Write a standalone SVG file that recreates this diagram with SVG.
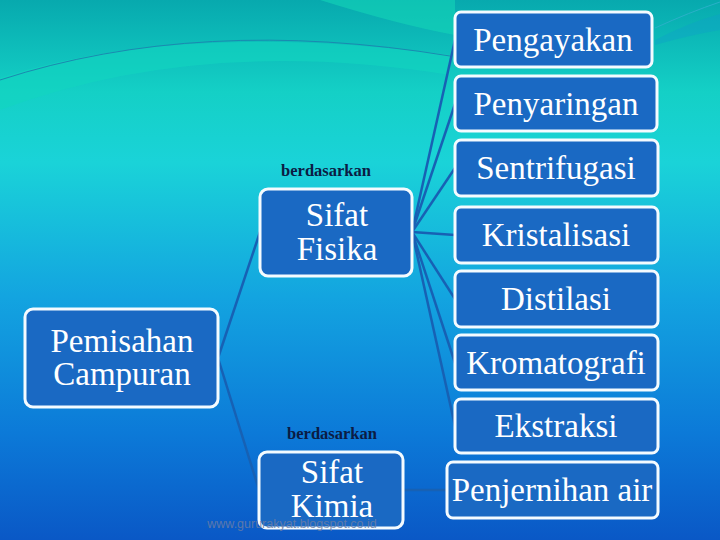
<svg xmlns="http://www.w3.org/2000/svg" width="720" height="540" viewBox="0 0 720 540">
<defs>
<linearGradient id="bg" x1="0" y1="0" x2="0" y2="1">
<stop offset="0" stop-color="#07a9ae"/>
<stop offset="0.17" stop-color="#14d0c6"/>
<stop offset="0.3" stop-color="#1ad3d8"/>
<stop offset="0.55" stop-color="#13a4e0"/>
<stop offset="0.8" stop-color="#0c7ad8"/>
<stop offset="1" stop-color="#0a58c6"/>
</linearGradient>
<style>
.box{fill:#1a69c3;stroke:#f4fbff;stroke-width:3}
.t{font-family:"Liberation Serif",serif;font-size:33px;fill:#ffffff;text-anchor:middle}
.b{font-family:"Liberation Serif",serif;font-size:16.5px;font-weight:bold;fill:#0b1c44;text-anchor:middle}
.c{stroke:#1761b4;stroke-width:2.5;fill:none}
</style>
</defs>
<rect width="720" height="540" fill="url(#bg)"/>
<path d="M0,78 Q180,20 450,55 L450,75 Q200,35 0,110 Z" fill="#12d6c0" opacity="0.6"/>
<path d="M0,80 Q200,15 450,56" fill="none" stroke="#1a8ab0" stroke-width="1"/>
<path d="M320,0 Q400,25 455,35 L455,0 Z" fill="#14d6b8" opacity="0.6"/>
<path d="M655,28 Q690,12 720,2" fill="none" stroke="#2ab0c8" stroke-width="1"/>
<path d="M655,40 Q690,22 720,14 L720,30 Q690,35 655,45 Z" fill="#10a0c8" opacity="0.4"/>
<g id="connectors">
<line class="c" x1="412" y1="232" x2="455" y2="40"/>
<line class="c" x1="412" y1="232" x2="455" y2="104"/>
<line class="c" x1="412" y1="232" x2="455" y2="168"/>
<line class="c" x1="412" y1="232" x2="455" y2="235" stroke-width="3.5"/>
<line class="c" x1="412" y1="232" x2="455" y2="299"/>
<line class="c" x1="412" y1="232" x2="455" y2="363"/>
<line class="c" x1="412" y1="232" x2="455" y2="426"/>
<line class="c" x1="218" y1="358" x2="260" y2="232"/>
<line class="c" x1="218" y1="358" x2="259" y2="490"/>
<line class="c" x1="403" y1="490" x2="447" y2="490" stroke-width="1.5"/>
</g>
<g id="pemisahan"><rect class="box" x="25" y="309" width="193" height="98" rx="8"/><text class="t" x="122" y="352">Pemisahan</text><text class="t" x="122" y="385">Campuran</text></g>
<g id="label1"><text class="b" x="326" y="176">berdasarkan</text></g>
<g id="fisika"><rect class="box" x="260" y="189" width="152" height="87" rx="8"/><text class="t" x="337" y="226">Sifat</text><text class="t" x="337" y="260">Fisika</text></g>
<g id="label2"><text class="b" x="332" y="439">berdasarkan</text></g>
<g id="kimia"><rect class="box" x="259" y="452" width="144" height="76" rx="8"/><text class="t" x="332" y="483">Sifat</text><text class="t" x="332" y="517">Kimia</text></g>
<g id="pengayakan"><rect class="box" x="455" y="12" width="197" height="55" rx="6"/><text class="t" x="553" y="51">Pengayakan</text></g>
<g id="penyaringan"><rect class="box" x="455" y="76" width="202" height="55" rx="6"/><text class="t" x="556" y="115">Penyaringan</text></g>
<g id="sentrifugasi"><rect class="box" x="455" y="140" width="203" height="56" rx="6"/><text class="t" x="556" y="179">Sentrifugasi</text></g>
<g id="kristalisasi"><rect class="box" x="455" y="207" width="203" height="56" rx="6"/><text class="t" x="556" y="246">Kristalisasi</text></g>
<g id="distilasi"><rect class="box" x="455" y="271" width="203" height="56" rx="6"/><text class="t" x="556" y="310">Distilasi</text></g>
<g id="kromatografi"><rect class="box" x="455" y="335" width="203" height="55" rx="6"/><text class="t" x="556" y="374">Kromatografi</text></g>
<g id="ekstraksi"><rect class="box" x="455" y="399" width="203" height="54" rx="6"/><text class="t" x="556" y="437">Ekstraksi</text></g>
<g id="penjernihan"><rect class="box" x="447" y="462" width="211" height="56" rx="6"/><text class="t" x="552" y="501">Penjernihan air</text></g>
<text x="292" y="528" font-family="Liberation Sans, sans-serif" font-size="12.5" fill="#6a7ea6" opacity="0.85" text-anchor="middle">www.gururakyat.blogspot.co.id</text>
</svg>
